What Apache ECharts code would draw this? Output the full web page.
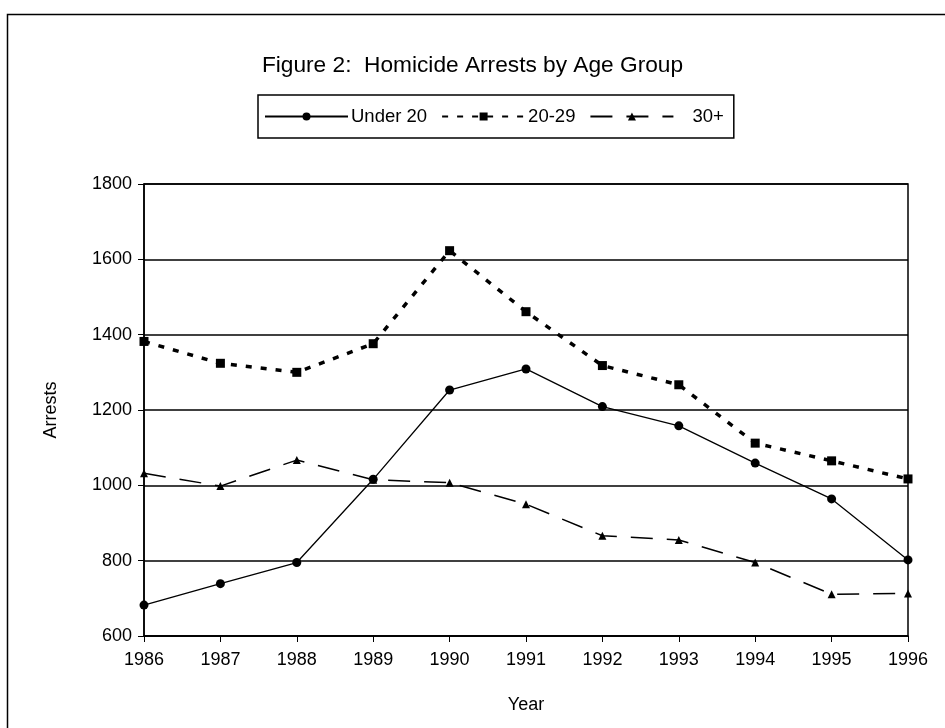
<!DOCTYPE html>
<html>
<head>
<meta charset="utf-8">
<script src="https://cdn.jsdelivr.net/npm/echarts@6/dist/echarts.min.js"></script>
<style>
html,body{margin:0;padding:0;background:#fff;}
#chart{width:945px;height:728px;}
</style>
</head>
<body>
<div id="chart"></div>
<script>
var years = ['1986','1987','1988','1989','1990','1991','1992','1993','1994','1995','1996'];
var under20 = [682, 739, 795, 1016, 1253, 1309, 1209, 1158, 1059, 964, 802];
var age2029 = [1382, 1324, 1300, 1376, 1623, 1461, 1318, 1267, 1112, 1065, 1017];
var age30plus = [1032, 998, 1067, 1015, 1007, 950, 866, 855, 795, 711, 713];
var yTicks = [600, 800, 1000, 1200, 1400, 1600, 1800];

var FONT = 'Liberation Sans, Arial, sans-serif';
var chart = echarts.init(document.getElementById('chart'), null, {renderer: 'canvas'});
chart.setOption({
  backgroundColor: '#fff',
  animation: false,
  title: {
    text: 'Figure 2:  Homicide Arrests by Age Group',
    left: 'center', top: 49,
    textStyle: {fontFamily: FONT, fontSize: 22.7, fontWeight: 'normal', color: '#000'}
  },
  graphic: [{
    type: 'rect', left: 5, top: 12,
    shape: {width: 960, height: 740},
    style: {fill: 'none', stroke: '#000', lineWidth: 1.5},
    silent: true
  }],
  legend: {
    top: 95, left: 258,
    padding: [12, 10, 12, 6],
    borderColor: '#000', borderWidth: 1.5,
    itemWidth: 83, itemHeight: 10, itemGap: 14,
    textStyle: {fontFamily: FONT, fontSize: 18.5, color: '#000', padding: [0, 0, 0, -2]},
    data: ['Under 20', '20-29', {name: '30+', textStyle: {padding: [0, 0, 0, 14]}}]
  },
  grid: {left: 144, right: 37, top: 184, bottom: 92, show: true, borderColor: '#000', borderWidth: 1.5, containLabel: false},
  xAxis: {
    type: 'category', data: years, boundaryGap: false,
    name: 'Year', nameLocation: 'middle', nameGap: 60,
    nameTextStyle: {fontFamily: FONT, fontSize: 18, color: '#000'},
    axisLine: {lineStyle: {color: '#000', width: 1.5}},
    axisTick: {show: true, inside: false, length: 6, lineStyle: {color: '#000'}, alignWithLabel: true},
    axisLabel: {fontFamily: FONT, fontSize: 18, color: '#000', margin: 15},
    splitLine: {show: false}
  },
  yAxis: {
    type: 'value', min: yTicks[0], max: yTicks[yTicks.length - 1], interval: 200,
    name: 'Arrests', nameLocation: 'middle', nameGap: 84, nameRotate: 90,
    nameTextStyle: {fontFamily: FONT, fontSize: 18, color: '#000'},
    axisLine: {show: true, lineStyle: {color: '#000', width: 1.5}},
    axisTick: {show: true, inside: false, length: 6, lineStyle: {color: '#000'}},
    axisLabel: {fontFamily: FONT, fontSize: 18, color: '#000', margin: 12, formatter: function (v) { return String(v); }},
    splitLine: {show: true, lineStyle: {color: '#000', width: 1.5}}
  },
  series: [
    {
      name: 'Under 20', type: 'line', data: under20,
      symbol: 'circle', symbolSize: 9,
      itemStyle: {color: '#000'},
      lineStyle: {color: '#000', width: 1.3, type: 'solid'}
    },
    {
      name: '20-29', type: 'line', data: age2029,
      symbol: 'rect', symbolSize: 9,
      itemStyle: {color: '#000'},
      lineStyle: {color: '#000', width: 3.5, type: [6, 9]}
    },
    {
      name: '30+', type: 'line', data: age30plus,
      symbol: 'triangle', symbolSize: 8,
      itemStyle: {color: '#000'},
      lineStyle: {color: '#000', width: 1.5, type: [22, 14]}
    }
  ]
});
</script>
</body>
</html>
